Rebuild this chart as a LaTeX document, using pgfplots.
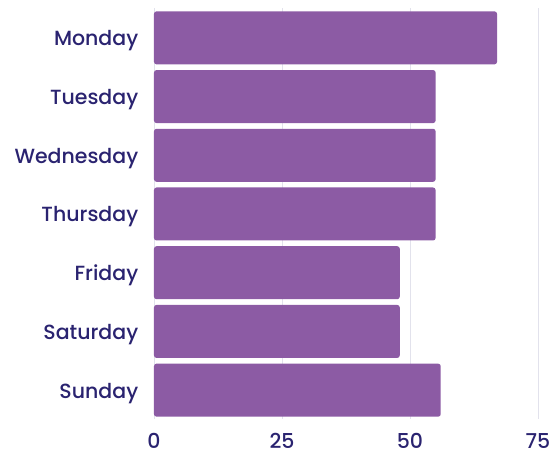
\documentclass[border=0pt]{standalone}
\usepackage{fontspec}
\setmainfont{Poppins}[UprightFont=* Medium]
\usepackage{pgfplots}
\pgfplotsset{compat=1.18}
\definecolor{barc}{HTML}{8C5BA4}
\definecolor{txt}{HTML}{2A2370}
\definecolor{gridc}{HTML}{E2E2EC}
\begin{document}
\begin{tikzpicture}
\useasboundingbox (-154pt,-34.5pt) rectangle (396pt,419.5pt);
\begin{axis}[
  at={(0,0)}, anchor=south west,
  scale only axis,
  width=384pt, height=411pt,
  xmin=0, xmax=75,
  ymin=-0.5, ymax=6.5,
  y dir=reverse,
  xbar, bar width=53pt,
  bar shift=0pt,
  axis line style={draw=none},
  tick style={draw=none},
  xtick={0,25,50,75},
  ytick={0,...,6},
  yticklabels={Monday,Tuesday,Wednesday,Thursday,Friday,Saturday,Sunday},
  xmajorgrids,
  grid style={gridc, line width=0.8pt},
  /pgf/number format/assume math mode=true,
  ticklabel style={font=\fontsize{20.5}{24}\selectfont, text=txt},
  xticklabel style={yshift=-10pt},
  yticklabel style={xshift=-8pt, yshift=-3pt},
]
\addplot[fill=barc, draw=none, rounded corners=2.5pt] coordinates {
(67,0) (55,1) (55,2) (55,3) (48,4) (48,5) (56,6)
};
\end{axis}
\end{tikzpicture}
\end{document}
